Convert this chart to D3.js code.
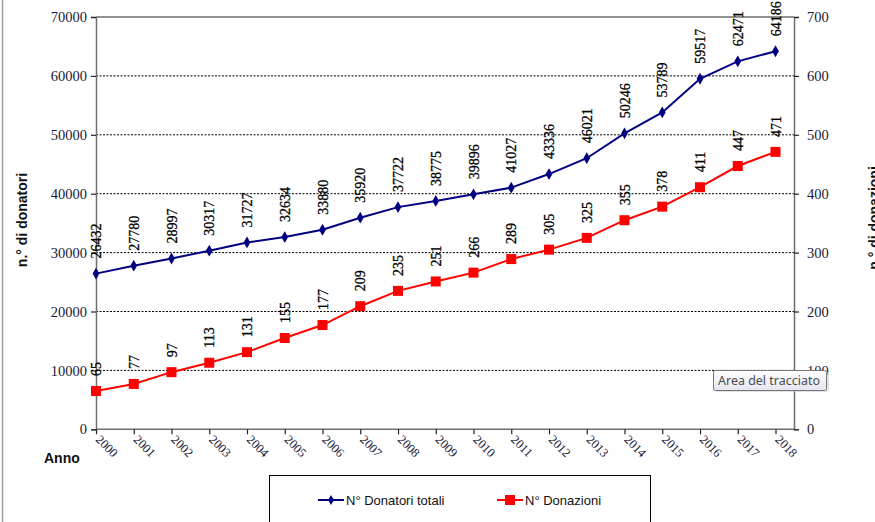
<!DOCTYPE html>
<html>
<head>
<meta charset="utf-8">
<script src="https://cdn.jsdelivr.net/npm/d3@7"></script>
<style>
  body { margin: 0; background: #fff; }
  svg { display: block; }
</style>
</head>
<body>
<svg id="chart"></svg>
<script>
// anni e serie
const anni = ["2000","2001","2002","2003","2004","2005","2006","2007","2008","2009",
              "2010","2011","2012","2013","2014","2015","2016","2017","2018"];
const donatori = [26432, 27780, 28997, 30317, 31727, 32634, 33880, 35920, 37722, 38775,
                  39896, 41027, 43336, 46021, 50246, 53789, 59517, 62471, 64186];
const donazioni = [65, 77, 97, 113, 131, 155, 177, 209, 235, 251,
                   266, 289, 305, 325, 355, 378, 411, 447, 471];
const tickSinistra = [0, 10000, 20000, 30000, 40000, 50000, 60000, 70000];
const tickDestra = [0, 100, 200, 300, 400, 500, 600, 700];
const nomiSerie = ["N° Donatori totali", "N° Donazioni"];

const W = 875, H = 522;
const mSx = 96, mDx = 794, mAlto = 17, mBasso = 429.3;

const svg = d3.select("#chart").attr("width", W).attr("height", H);

// bordo del foglio a sinistra
svg.append("line")
  .attr("x1", 2.5).attr("x2", 2.5).attr("y1", 0).attr("y2", H)
  .attr("stroke", "#a0a0a0").attr("stroke-width", 1.5);

const x = d3.scalePoint().domain(anni).range([mSx, 775.5]);
const yL = d3.scaleLinear().domain([0, 70000]).range([mBasso, mAlto]);
const yR = d3.scaleLinear().domain([0, 700]).range([mBasso, mAlto]);

// griglia
svg.append("g").selectAll("line")
  .data(tickSinistra.filter(d => d > 0))
  .enter().append("line")
  .attr("x1", mSx).attr("x2", mDx)
  .attr("y1", d => yL(d)).attr("y2", d => yL(d))
  .attr("stroke", d => d === 70000 ? "#6e6e6e" : "#000")
  .attr("stroke-width", d => d === 70000 ? 1.5 : 1)
  .attr("stroke-dasharray", d => d === 70000 ? null : "2,1.5");

// assi
const fontAsse = "'Liberation Serif', 'Times New Roman', serif";

const axL = svg.append("g")
  .attr("transform", `translate(${mSx},0)`)
  .call(d3.axisLeft(yL).tickValues(tickSinistra).tickSize(5).tickPadding(4).tickFormat(d3.format("d")));
const axR = svg.append("g")
  .attr("transform", `translate(${mDx},0)`)
  .call(d3.axisRight(yR).tickValues(tickDestra).tickSize(5).tickPadding(8).tickFormat(d3.format("d")));
const axB = svg.append("g")
  .attr("transform", `translate(0,${mBasso})`)
  .call(d3.axisBottom(x).tickSize(5).tickFormat(""));

[axL, axR, axB].forEach(g => {
  g.select(".domain").attr("stroke", "#6e6e6e").attr("stroke-width", 1.5);
  g.selectAll(".tick line").attr("stroke", "#222").attr("stroke-width", 1.2);
  g.selectAll("text").attr("font-family", fontAsse).attr("font-size", 14.5).attr("fill", "#1a1a3a");
});
axB.select(".domain").attr("d", `M${mSx},0H${mDx}`);

// etichette anni ruotate
svg.append("g").selectAll("text")
  .data(anni)
  .enter().append("text")
  .attr("transform", d => `translate(${x(d) - 1},${mBasso + 11}) rotate(45)`)
  .attr("font-family", fontAsse).attr("font-size", 12.5).attr("fill", "#1a1a3a")
  .text(d => d);

// titoli
svg.append("text")
  .attr("x", 44).attr("y", 463)
  .attr("font-family", "'Liberation Sans', Arial, sans-serif")
  .attr("font-weight", "bold").attr("font-size", 14).attr("fill", "#111")
  .text("Anno");

svg.append("text")
  .attr("transform", "translate(27,220) rotate(-90)")
  .attr("text-anchor", "middle")
  .attr("font-family", "'Liberation Sans', Arial, sans-serif")
  .attr("font-weight", "bold").attr("font-size", 14).attr("fill", "#111")
  .text("n.° di donatori");

svg.append("text")
  .attr("transform", "translate(879,218) rotate(-90)")
  .attr("text-anchor", "middle")
  .attr("font-family", "'Liberation Sans', Arial, sans-serif")
  .attr("font-weight", "bold").attr("font-size", 14).attr("fill", "#111")
  .text("n.° di donazioni");

// linee
const lineaL = d3.line().x((d, i) => x(anni[i])).y(d => yL(d));
const lineaR = d3.line().x((d, i) => x(anni[i])).y(d => yR(d));

svg.append("path").datum(donatori)
  .attr("d", lineaL).attr("fill", "none")
  .attr("stroke", "#000080").attr("stroke-width", 2);
svg.append("path").datum(donazioni)
  .attr("d", lineaR).attr("fill", "none")
  .attr("stroke", "#ff0000").attr("stroke-width", 2);

// marcatori
const rombo = d3.symbol().type(d3.symbolDiamond).size(40);
svg.append("g").selectAll("path")
  .data(donatori)
  .enter().append("path")
  .attr("d", rombo)
  .attr("transform", (d, i) => `translate(${x(anni[i])},${yL(d)})`)
  .attr("fill", "#000080");

svg.append("g").selectAll("rect")
  .data(donazioni)
  .enter().append("rect")
  .attr("x", (d, i) => x(anni[i]) - 5)
  .attr("y", d => yR(d) - 5)
  .attr("width", 10).attr("height", 10)
  .attr("fill", "#ff0000");

// etichette dati
function etichette(dati, scala) {
  svg.append("g").selectAll("text")
    .data(dati)
    .enter().append("text")
    .attr("transform", (d, i) => `translate(${x(anni[i]) + 5},${scala(d) - 15}) rotate(-90)`)
    .attr("font-family", fontAsse).attr("font-size", 14).attr("fill", "#000")
    .attr("stroke", "#000").attr("stroke-width", 0.3)
    .text(d => d);
}
etichette(donatori, yL);
etichette(donazioni, yR);

// legenda
svg.append("rect")
  .attr("x", 269.5).attr("y", 475.5).attr("width", 381).attr("height", 60)
  .attr("fill", "#fff").attr("stroke", "#000").attr("stroke-width", 1);

const legenda = svg.append("g").selectAll("g")
  .data(nomiSerie)
  .enter().append("g")
  .attr("transform", (d, i) => `translate(${i === 0 ? 318 : 497},500)`);

legenda.append("line")
  .attr("x1", 0).attr("x2", 26).attr("y1", 0).attr("y2", 0)
  .attr("stroke", (d, i) => i === 0 ? "#000080" : "#ff0000").attr("stroke-width", 2);
legenda.filter((d, i) => i === 0).append("path")
  .attr("d", d3.symbol().type(d3.symbolDiamond).size(30))
  .attr("transform", "translate(13,0)").attr("fill", "#000080");
legenda.filter((d, i) => i === 1).append("rect")
  .attr("x", 8).attr("y", -5).attr("width", 10).attr("height", 10).attr("fill", "#ff0000");
legenda.append("text")
  .attr("x", 28).attr("y", 5)
  .attr("font-family", "'Liberation Sans', Arial, sans-serif")
  .attr("font-size", 13).attr("fill", "#111")
  .text(d => d);

// suggerimento "Area del tracciato"
const defs = svg.append("defs");
const grad = defs.append("linearGradient").attr("id", "tipGrad")
  .attr("x1", 0).attr("y1", 0).attr("x2", 0).attr("y2", 1);
grad.append("stop").attr("offset", "0%").attr("stop-color", "#ffffff");
grad.append("stop").attr("offset", "100%").attr("stop-color", "#e4e5f0");

svg.append("rect")
  .attr("x", 715).attr("y", 372).attr("width", 114).attr("height", 20)
  .attr("rx", 2).attr("fill", "#cfcfcf").attr("opacity", 0.6);
svg.append("rect")
  .attr("x", 713.5).attr("y", 370.5).attr("width", 113).attr("height", 20)
  .attr("rx", 2).attr("fill", "url(#tipGrad)").attr("stroke", "#767676");
svg.append("text")
  .attr("x", 718).attr("y", 385)
  .attr("font-family", "'Noto Sans', 'Open Sans', sans-serif")
  .attr("font-size", 12.2).attr("fill", "#4d4d4d")
  .attr("textLength", 102).attr("lengthAdjust", "spacingAndGlyphs")
  .text("Area del tracciato");
</script>
</body>
</html>
